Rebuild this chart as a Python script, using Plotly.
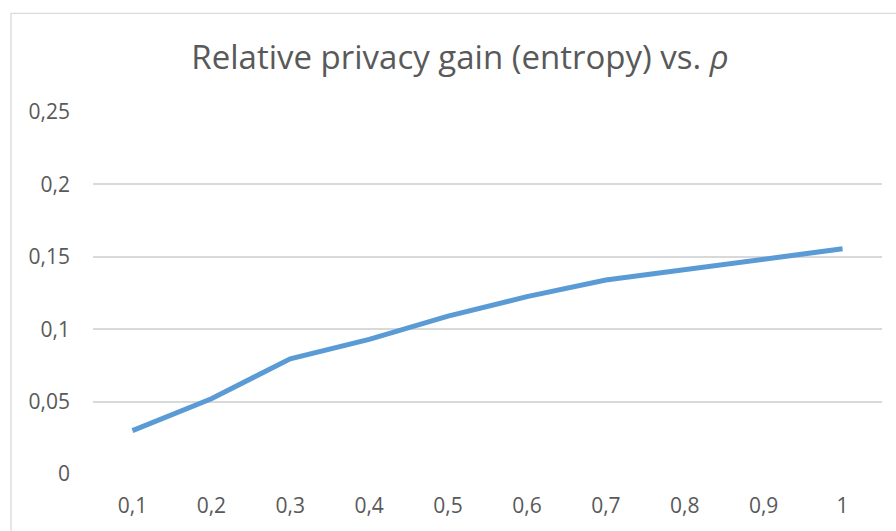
import plotly.graph_objects as go

# Privacy gain measured at each rho setting
rho_labels = ["0,1", "0,2", "0,3", "0,4", "0,5", "0,6", "0,7", "0,8", "0,9", "1"]
gain = [0.030, 0.052, 0.0795, 0.093, 0.109, 0.1225, 0.134, 0.141, 0.1485, 0.1555]

y_tickvals = [0, 0.05, 0.1, 0.15, 0.2, 0.25]
y_ticktext = ["0", "0,05", "0,1", "0,15", "0,2", "0,25"]

W, H = 896, 531
L, R, T, B = 93, 14, 112, 54
pw, ph = W - L - R, H - T - B

text_color = "#595959"
grid_color = "#d9d9d9"
font_family = "Open Sans, Liberation Sans, sans-serif"

fig = go.Figure(
    go.Scatter(
        x=rho_labels,
        y=gain,
        mode="lines",
        line=dict(color="#5B9BD5", width=5),
        hoverinfo="x+y",
    )
)

# chart-area frame
fig.add_shape(
    type="rect",
    xref="paper", yref="paper",
    x0=(11 - L) / pw, x1=(W + 20 - L) / pw,
    y0=-(H + 20 - (T + ph)) / ph, y1=(T + ph - 12.5) / ph,
    line=dict(color=grid_color, width=1.3),
    fillcolor="rgba(0,0,0,0)",
    layer="below",
)

fig.update_layout(
    width=W, height=H,
    margin=dict(l=L, r=R, t=T, b=B),
    paper_bgcolor="white",
    plot_bgcolor="white",
    showlegend=False,
    font=dict(family=font_family, color=text_color, size=21),
    title=dict(
        text="Relative privacy gain (entropy) vs. <i>ρ</i>",
        font=dict(family=font_family, color=text_color, size=33),
        x=(460 - L) / pw, xref="paper", xanchor="center",
        y=1 - 57 / H, yref="container", yanchor="middle",
    ),
    xaxis=dict(
        type="category",
        range=[-0.5, len(rho_labels) - 0.5],
        showgrid=False,
        showline=False,
        zeroline=False,
        ticks="",
        tickfont=dict(size=21, color=text_color),
        ticklabelstandoff=17,
    ),
    yaxis=dict(
        range=[0, 0.25],
        tickvals=y_tickvals,
        ticktext=y_ticktext,
        showgrid=True,
        gridcolor=grid_color,
        gridwidth=1.5,
        zeroline=False,
        showline=False,
        ticks="",
        tickfont=dict(size=21, color=text_color),
        ticklabelstandoff=22,
    ),
)

fig.write_html("out.html")
